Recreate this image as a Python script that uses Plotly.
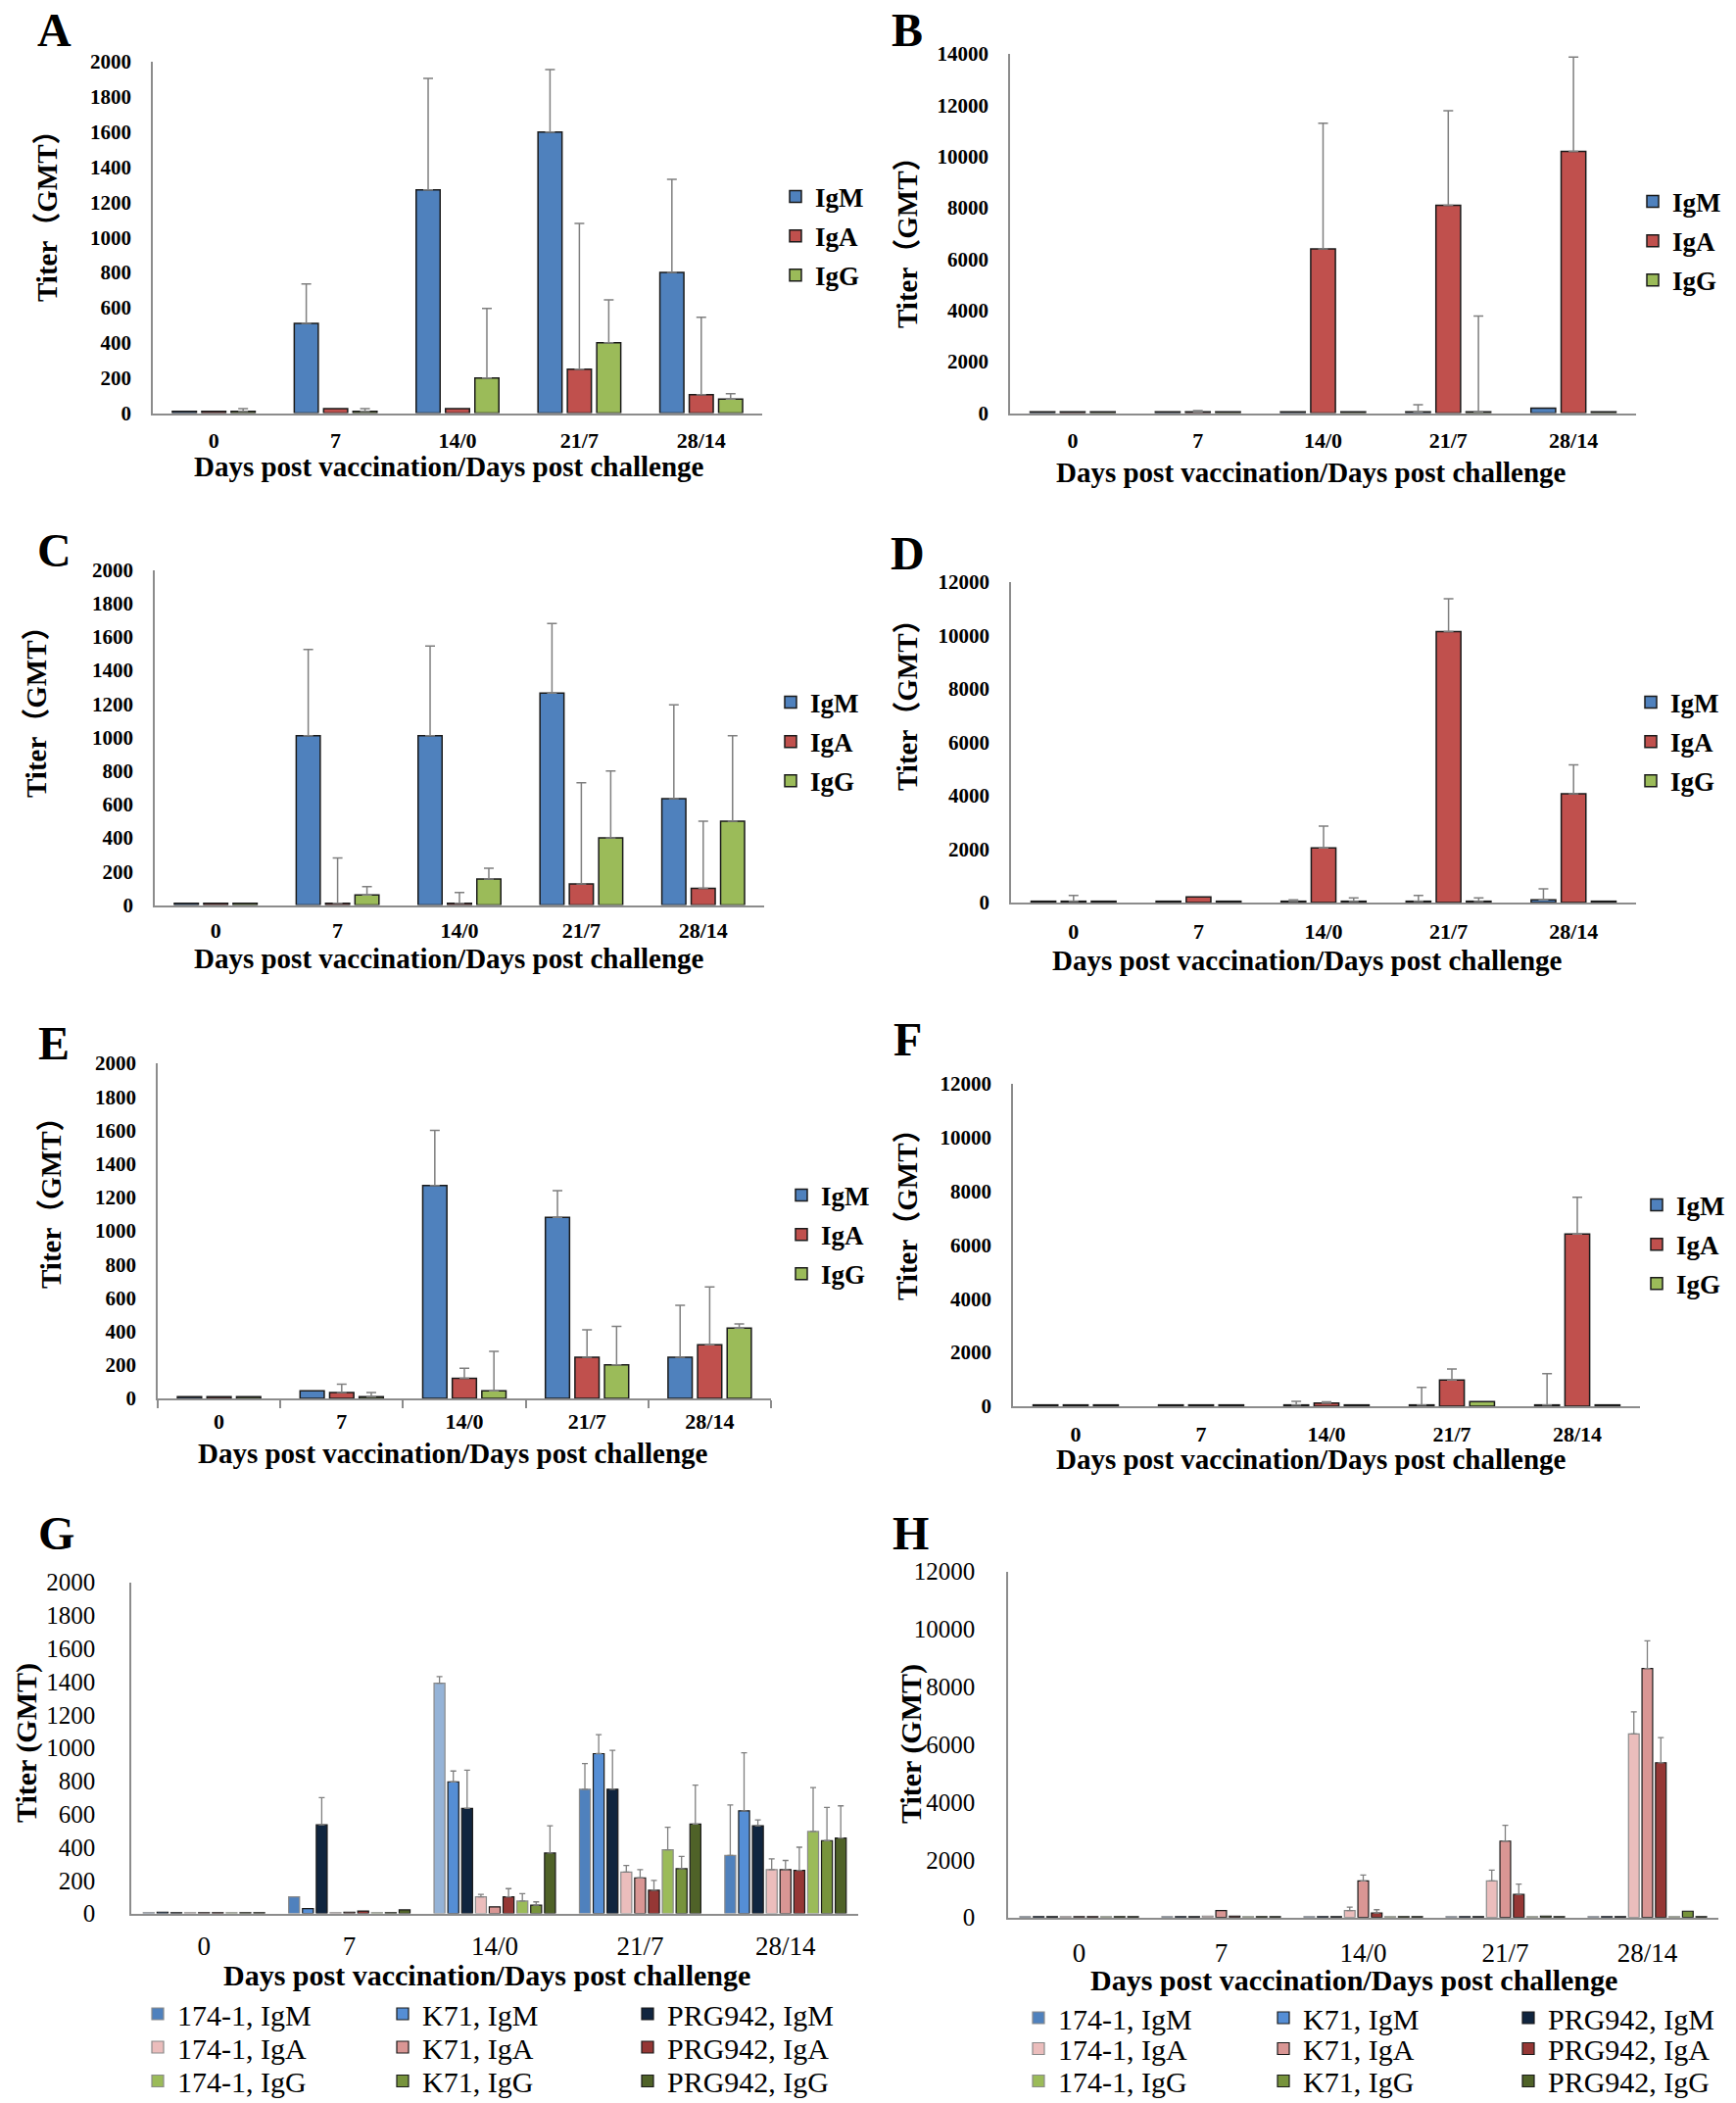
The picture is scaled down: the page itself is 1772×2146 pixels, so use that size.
import plotly.graph_objects as go

# The page body has an 8px default margin: the figure is made 8px smaller and
# all target pixel positions (measured on the 1772x2146 reference) are shifted by it.
PAGE_W, PAGE_H = 1772, 2146
OFF = 8
W, H = PAGE_W - OFF, PAGE_H - OFF
SERIF = "Liberation Serif, Times New Roman, serif"
SERIF_CJK = "Liberation Serif, Noto Sans CJK SC, serif"

categories = ["0", "7", "14/0", "21/7", "28/14"]
isotypes = ["IgM", "IgA", "IgG"]
strains = ["174-1", "K71", "PRG942"]
x_title = "Days post vaccination/Days post challenge"

# ---------------- Panel A ----------------
A_IgM = [10, 510, 1270, 1600, 800]
A_IgM_err = [None, 225, 635, 355, 530]
A_IgA = [10, 25, 25, 250, 105]
A_IgA_err = [None, None, None, 830, 440]
A_IgG = [10, 10, 200, 400, 80]
A_IgG_err = [15, 15, 395, 245, 30]
# ---------------- Panel B ----------------
B_IgM = [50, 50, 50, 50, 190]
B_IgM_err = [None, None, None, 270, None]
B_IgA = [50, 50, 6400, 8100, 10200]
B_IgA_err = [None, 50, 4900, 3680, 3680]
B_IgG = [50, 50, 50, 50, 50]
B_IgG_err = [None, None, None, 3730, None]
# ---------------- Panel C ----------------
C_IgM = [10, 1010, 1010, 1265, 635]
C_IgM_err = [None, 515, 535, 415, 560]
C_IgA = [10, 10, 10, 125, 100]
C_IgA_err = [None, 270, 65, 605, 400]
C_IgG = [10, 60, 155, 400, 500]
C_IgG_err = [None, 50, 65, 400, 510]
# ---------------- Panel D ----------------
D_IgM = [50, 50, 50, 50, 100]
D_IgM_err = [None, None, 50, 220, 410]
D_IgA = [50, 210, 2050, 10150, 4070]
D_IgA_err = [220, None, 810, 1230, 1090]
D_IgG = [50, 50, 50, 50, 50]
D_IgG_err = [None, None, 120, 120, None]
# ---------------- Panel E ----------------
E_IgM = [10, 45, 1270, 1080, 245]
E_IgM_err = [None, None, 330, 160, 310]
E_IgA = [10, 35, 120, 245, 320]
E_IgA_err = [None, 50, 60, 165, 345]
E_IgG = [10, 10, 45, 200, 420]
E_IgG_err = [None, 25, 235, 230, 25]
# ---------------- Panel F ----------------
F_IgM = [50, 50, 50, 50, 50]
F_IgM_err = [None, None, 130, 650, 1160]
F_IgA = [50, 50, 120, 970, 6400]
F_IgA_err = [None, None, 40, 410, 1370]
F_IgG = [50, 50, 50, 170, 50]
F_IgG_err = [None, None, None, None, None]
# ---------------- Panel G ----------------
G_174_IgM = [5, 100, 1390, 750, 350]
G_174_IgM_err = [None, None, 40, 155, 305]
G_K71_IgM = [8, 30, 795, 965, 620]
G_K71_IgM_err = [None, None, 65, 115, 350]
G_PRG_IgM = [5, 535, 635, 750, 530]
G_PRG_IgM_err = [None, 165, 230, 235, 35]
G_174_IgA = [5, 5, 100, 250, 265]
G_174_IgA_err = [None, None, 15, 40, 65]
G_K71_IgA = [5, 8, 40, 215, 265]
G_K71_IgA_err = [None, None, None, 50, 55]
G_PRG_IgA = [5, 15, 100, 140, 260]
G_PRG_IgA_err = [None, None, 50, 60, 140]
G_174_IgG = [5, 5, 75, 385, 495]
G_174_IgG_err = [None, None, 45, 135, 265]
G_K71_IgG = [5, 5, 50, 270, 440]
G_K71_IgG_err = [None, None, 20, 75, 200]
G_PRG_IgG = [5, 22, 365, 540, 455]
G_PRG_IgG_err = [None, None, 165, 235, 195]
# ---------------- Panel H ----------------
H_174_IgM = [30, 30, 30, 30, 30]
H_K71_IgM = [30, 30, 30, 30, 30]
H_PRG_IgM = [30, 30, 30, 30, 30]
H_174_IgA = [30, 50, 240, 1270, 6370]
H_174_IgA_err = [None, None, 120, 370, 760]
H_K71_IgA = [30, 240, 1270, 2650, 8640]
H_K71_IgA_err = [None, None, 200, 550, 960]
H_PRG_IgA = [30, 50, 160, 800, 5370]
H_PRG_IgA_err = [None, None, 110, 360, 870]
H_174_IgG = [30, 30, 30, 30, 30]
H_K71_IgG = [30, 30, 30, 50, 220]
H_PRG_IgG = [30, 30, 30, 30, 30]
NO_ERR = [None, None, None, None, None]

# ---------------- styles ----------------
iso_colors = {"IgM": "#4F81BD", "IgA": "#C0504D", "IgG": "#9BBB59"}
strain_iso_colors = {
    ("174-1", "IgM"): "#4F81BD", ("K71", "IgM"): "#558ED5", ("PRG942", "IgM"): "#10253F",
    ("174-1", "IgA"): "#EBBDBC", ("K71", "IgA"): "#D99694", ("PRG942", "IgA"): "#953735",
    ("174-1", "IgG"): "#9BBB59", ("K71", "IgG"): "#77933C", ("PRG942", "IgG"): "#4F6228",
}
G_highlight_color = "#95B3D7"  # lighter fill used for 174-1 IgM at 14/0 in G
outline_174 = "#8a8a8a"
outline_dark = "#1a1a1a"
ERR_COLOR = "#7f7f7f"
AXIS_COLOR = "#8c8c8c"

three_panels = {
    "A": [(A_IgM, A_IgM_err), (A_IgA, A_IgA_err), (A_IgG, A_IgG_err)],
    "B": [(B_IgM, B_IgM_err), (B_IgA, B_IgA_err), (B_IgG, B_IgG_err)],
    "C": [(C_IgM, C_IgM_err), (C_IgA, C_IgA_err), (C_IgG, C_IgG_err)],
    "D": [(D_IgM, D_IgM_err), (D_IgA, D_IgA_err), (D_IgG, D_IgG_err)],
    "E": [(E_IgM, E_IgM_err), (E_IgA, E_IgA_err), (E_IgG, E_IgG_err)],
    "F": [(F_IgM, F_IgM_err), (F_IgA, F_IgA_err), (F_IgG, F_IgG_err)],
}
nine_panels = {
    "G": [(G_174_IgM, G_174_IgM_err), (G_K71_IgM, G_K71_IgM_err), (G_PRG_IgM, G_PRG_IgM_err),
          (G_174_IgA, G_174_IgA_err), (G_K71_IgA, G_K71_IgA_err), (G_PRG_IgA, G_PRG_IgA_err),
          (G_174_IgG, G_174_IgG_err), (G_K71_IgG, G_K71_IgG_err), (G_PRG_IgG, G_PRG_IgG_err)],
    "H": [(H_174_IgM, NO_ERR), (H_K71_IgM, NO_ERR), (H_PRG_IgM, NO_ERR),
          (H_174_IgA, H_174_IgA_err), (H_K71_IgA, H_K71_IgA_err), (H_PRG_IgA, H_PRG_IgA_err),
          (H_174_IgG, NO_ERR), (H_K71_IgG, NO_ERR), (H_PRG_IgG, NO_ERR)],
}

# geometry in reference-page pixels (left, right, top, bottom of plot area)
geom = {
    "A": dict(box=(156, 778, 63, 421.5), ymax=2000, dtick=200, letter=(55, 30),
              xt=(458, 476), yt=(48, 213), leg=(792, 241), xstand=7, ystand=16),
    "B": dict(box=(1031, 1670, 55, 421.5), ymax=14000, dtick=2000, letter=(926, 30),
              xt=(1338, 482), yt=(926, 240), leg=(1667, 246), xstand=7, ystand=16),
    "C": dict(box=(158, 780, 581.5, 923.5), ymax=2000, dtick=200, letter=(55, 561),
              xt=(458, 978), yt=(37, 719), leg=(787, 757), xstand=5, ystand=16),
    "D": dict(box=(1032, 1670, 594, 921), ymax=12000, dtick=2000, letter=(926, 564),
              xt=(1334, 980), yt=(926, 712), leg=(1665, 757), xstand=9, ystand=16),
    "E": dict(box=(161, 787, 1085, 1427), ymax=2000, dtick=200, letter=(55, 1064),
              xt=(462, 1483), yt=(52, 1220), leg=(798, 1260), xstand=3, ystand=16),
    "F": dict(box=(1034, 1674, 1105.6, 1435), ymax=12000, dtick=2000, letter=(926, 1060),
              xt=(1338, 1489), yt=(926, 1232), leg=(1671, 1270), xstand=8, ystand=16),
    "G": dict(box=(134, 876, 1614.6, 1952.6), ymax=2000, dtick=200, letter=(57, 1564),
              xt=(497, 2015), yt=(27, 1779), legx=141, legrows=(2055, 2089, 2123.5),
              xstand=8, ystand=30),
    "H": dict(box=(1029, 1754, 1603.7, 1956.7), ymax=12000, dtick=2000, letter=(930, 1564),
              xt=(1382, 2020), yt=(930, 1779), legx=1040, legrows=(2059, 2090.5, 2123.5),
              xstand=11, ystand=27),
}


def px_x(x):
    return (x - OFF) / W


def px_y(y):
    return 1 - (y - OFF) / H


def err_array(err):
    # missing error -> NaN string so that plotly.js draws no error bar
    return ["NaN" if e is None else e for e in err]


fig = go.Figure()
layout = dict(
    width=W, height=H, autosize=False,
    margin=dict(l=0, r=0, t=0, b=0, pad=0, autoexpand=False),
    paper_bgcolor="white", plot_bgcolor="white",
    barmode="overlay", showlegend=True,
    font=dict(family=SERIF, color="black"),
)
annotations = []

order = ["A", "B", "C", "D", "E", "F", "G", "H"]
legend_counter = [0]


def new_legend_name():
    legend_counter[0] += 1
    n = legend_counter[0]
    return "legend" if n == 1 else f"legend{n}"


for idx, p in enumerate(order):
    g = geom[p]
    n = idx + 1
    xa = "xaxis" if n == 1 else f"xaxis{n}"
    ya = "yaxis" if n == 1 else f"yaxis{n}"
    xref = "x" if n == 1 else f"x{n}"
    yref = "y" if n == 1 else f"y{n}"
    l, r, t, b = g["box"]
    big = p in ("G", "H")
    tick_font_y = dict(family=SERIF, size=25 if big else 21, color="black",
                       weight="normal" if big else "bold")
    tick_font_x = dict(family=SERIF, size=27 if big else 22, color="black",
                       weight="normal" if big else "bold")
    layout[xa] = dict(
        domain=[px_x(l), px_x(r)], anchor=yref, type="category",
        categoryorder="array", categoryarray=categories,
        range=[-0.5, 4.5], showline=True, linecolor=AXIS_COLOR, linewidth=2,
        showgrid=False, zeroline=False, tickfont=tick_font_x,
        ticks="outside" if p == "E" else "", tickson="boundaries",
        ticklen=8, tickcolor=AXIS_COLOR, tickwidth=1.5,
        ticklabelstandoff=g["xstand"], fixedrange=True, automargin=False,
    )
    layout[ya] = dict(
        domain=[px_y(b), px_y(t)], anchor=xref, range=[0, g["ymax"]],
        dtick=g["dtick"], tick0=0, tickformat="d", showline=True,
        linecolor=AXIS_COLOR, linewidth=1.5, showgrid=False, zeroline=False,
        ticks="", tickfont=tick_font_y, ticklabelstandoff=g["ystand"],
        fixedrange=True, automargin=False,
    )

    # panel letter
    annotations.append(dict(
        x=px_x(g["letter"][0]), y=px_y(g["letter"][1]), xref="paper", yref="paper",
        text=p, showarrow=False, xanchor="center", yanchor="middle",
        font=dict(family=SERIF, size=48, color="black", weight="bold")))
    # x title
    annotations.append(dict(
        x=px_x(g["xt"][0]), y=px_y(g["xt"][1]), xref="paper", yref="paper",
        text=x_title, showarrow=False, xanchor="center", yanchor="middle",
        font=dict(family=SERIF, size=30 if big else 29, color="black", weight="bold")))
    # y title
    annotations.append(dict(
        x=px_x(g["yt"][0]), y=px_y(g["yt"][1]), xref="paper", yref="paper",
        text="Titer (GMT)" if big else "Titer（GMT）", textangle=-90,
        showarrow=False, xanchor="center", yanchor="middle",
        font=dict(family=SERIF if big else SERIF_CJK, size=30 if big else 29,
                  color="black", weight="bold")))

    if not big:
        leg = new_legend_name()
        layout[leg] = dict(
            x=px_x(g["leg"][0]), y=px_y(g["leg"][1]), xref="paper", yref="paper",
            xanchor="left", yanchor="middle", orientation="v",
            font=dict(family=SERIF, size=27, color="black", weight="bold"),
            bgcolor="rgba(0,0,0,0)", borderwidth=0, itemwidth=30,
            traceorder="grouped", tracegroupgap=2,
            itemclick=False, itemdoubleclick=False,
        )
        slot, w = 0.241, 0.197
        for k, (iso, (vals, err)) in enumerate(zip(isotypes, three_panels[p])):
            fig.add_trace(go.Bar(
                x=categories, y=vals, name=iso, xaxis=xref, yaxis=yref, legend=leg,
                legendgroup=f"{p}-{iso}",
                width=w, offset=(k - 1) * slot - w / 2,
                marker=dict(color=iso_colors[iso], line=dict(color=outline_dark, width=1.5)),
                error_y=dict(type="data", array=err_array(err), symmetric=False,
                             color=ERR_COLOR, thickness=1.5, width=5),
                hoverinfo="skip",
            ))
    else:
        row_legends = []
        for ri, ry in enumerate(g["legrows"]):
            leg = new_legend_name()
            row_legends.append(leg)
            layout[leg] = dict(
                x=px_x(g["legx"]), y=px_y(ry), xref="paper", yref="paper",
                xanchor="left", yanchor="middle", orientation="h",
                entrywidth=205, entrywidthmode="pixels",
                font=dict(family=SERIF, size=30, color="black", weight="normal"),
                bgcolor="rgba(0,0,0,0)", borderwidth=0, itemwidth=30,
                traceorder="normal", itemclick=False, itemdoubleclick=False,
            )
        slot, w = 0.095, 0.075
        series = [(s, iso) for iso in isotypes for s in strains]
        for k, ((s, iso), (vals, err)) in enumerate(zip(series, nine_panels[p])):
            color = strain_iso_colors[(s, iso)]
            if p == "G" and s == "174-1" and iso == "IgM":
                color = [G_highlight_color if c == "14/0" else color for c in categories]
            fig.add_trace(go.Bar(
                x=categories, y=vals, name=f"{s}, {iso}", xaxis=xref, yaxis=yref,
                legend=row_legends[isotypes.index(iso)],
                width=w, offset=(k - 4) * slot - w / 2,
                marker=dict(color=color,
                            line=dict(color=outline_174 if s == "174-1" else outline_dark,
                                      width=1.2)),
                error_y=dict(type="data", array=err_array(err), symmetric=False,
                             color=ERR_COLOR, thickness=1.3, width=3),
                hoverinfo="skip",
            ))

layout["annotations"] = annotations
fig.update_layout(**layout)
fig.write_html("out.html")
